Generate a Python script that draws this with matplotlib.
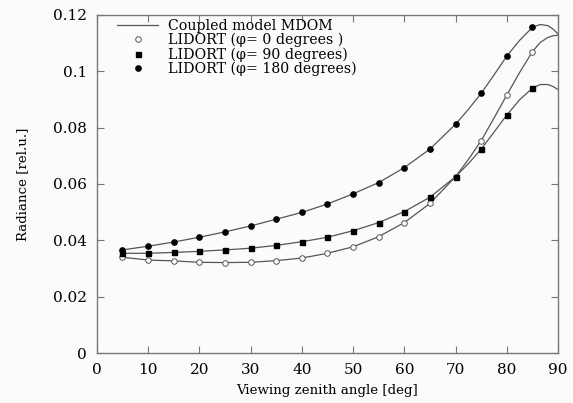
import matplotlib.pyplot as plt
from matplotlib.ticker import FuncFormatter

# LIDORT points
angles = [5, 10, 15, 20, 25, 30, 35, 40, 45, 50, 55, 60, 65, 70, 75, 80, 85]
lidort_0 = [0.0340, 0.0330, 0.0327, 0.0322, 0.0321, 0.0322, 0.0328, 0.0337, 0.0354,
            0.0377, 0.0413, 0.0463, 0.0531, 0.0626, 0.0754, 0.0916, 0.1070]
lidort_90 = [0.0354, 0.0354, 0.0357, 0.0361, 0.0366, 0.0372, 0.0382, 0.0395, 0.0411,
             0.0434, 0.0463, 0.0502, 0.0553, 0.0626, 0.0724, 0.0845, 0.0940]
lidort_180 = [0.0366, 0.0379, 0.0394, 0.0411, 0.0430, 0.0451, 0.0475, 0.0499, 0.0529,
              0.0565, 0.0605, 0.0658, 0.0724, 0.0812, 0.0922, 0.1054, 0.1156]

# coupled model MDOM curves
model_angles = [5, 10, 15, 20, 25, 30, 35, 40, 45, 50, 55, 60, 65, 70, 72.5, 75, 77.5,
                80, 82.5, 85, 86.5, 88, 89, 90]
model_0 = [0.0340, 0.0330, 0.0327, 0.0322, 0.0321, 0.0322, 0.0328, 0.0337, 0.0354,
           0.0377, 0.0413, 0.0463, 0.0531, 0.0626, 0.0687, 0.0754, 0.0834,
           0.0916, 0.0996, 0.1070, 0.1102, 0.1120, 0.1126, 0.1128]
model_90 = [0.0354, 0.0354, 0.0357, 0.0361, 0.0366, 0.0372, 0.0382, 0.0395, 0.0411,
            0.0434, 0.0463, 0.0502, 0.0553, 0.0626, 0.0672, 0.0724, 0.0784,
            0.0845, 0.0899, 0.0940, 0.0953, 0.0953, 0.0946, 0.0935]
model_180 = [0.0366, 0.0379, 0.0394, 0.0411, 0.0430, 0.0451, 0.0475, 0.0499, 0.0529,
             0.0565, 0.0605, 0.0658, 0.0724, 0.0812, 0.0865, 0.0922, 0.0987,
             0.1054, 0.1110, 0.1156, 0.1166, 0.1162, 0.1150, 0.1132]

plt.rcParams['font.family'] = ['DejaVu Serif']

fig = plt.figure(figsize=(5.73, 4.03), dpi=100)
fig.patch.set_facecolor('#fdfbfa')
ax = fig.add_axes([0.169, 0.124, 0.805, 0.839])
ax.set_facecolor('#fdfbfa')

ax.plot(model_angles, model_0, color='#555555', lw=0.9, label='Coupled model MDOM')
ax.plot(model_angles, model_90, color='#555555', lw=0.9)
ax.plot(model_angles, model_180, color='#555555', lw=0.9)

ax.plot(angles, lidort_0, ls='none', marker='o', ms=4, mfc='white', mec='#555555',
        mew=0.7, label='LIDORT (φ= 0 degrees )')
ax.plot(angles, lidort_90, ls='none', marker='s', ms=3.6, color='black',
        label='LIDORT (φ= 90 degrees)')
ax.plot(angles, lidort_180, ls='none', marker='o', ms=3.8, color='black',
        label='LIDORT (φ= 180 degrees)')

ax.set_xlim(0, 90)
ax.set_ylim(0, 0.12)
ax.set_xticks(range(0, 91, 10))
ax.set_yticks([0, 0.02, 0.04, 0.06, 0.08, 0.1, 0.12])
ax.yaxis.set_major_formatter(FuncFormatter(lambda v, p: '%g' % round(v, 2)))
ax.tick_params(direction='in', top=True, right=True, length=5, width=0.8,
               color='#777777', labelsize=11, pad=7)
for s in ax.spines.values():
    s.set_color('#777777')
    s.set_linewidth(1.0)

ax.set_xlabel('Viewing zenith angle [deg]', fontsize=9.6, labelpad=5)
ax.set_ylabel('Radiance [rel.u.]', fontsize=9.6, labelpad=17)

ax.legend(loc='upper left', bbox_to_anchor=(0.043, 0.988), frameon=False,
          labelspacing=0.0, handlelength=2.95, handletextpad=0.7,
          borderpad=0, borderaxespad=0, fontsize=10.2)

fig.savefig('out.png', dpi=100, facecolor=fig.get_facecolor())
